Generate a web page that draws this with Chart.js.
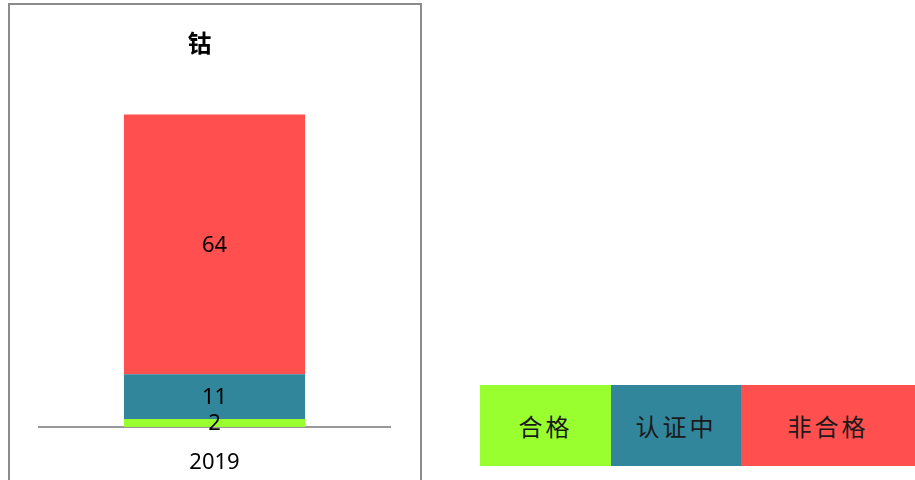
<!DOCTYPE html>
<html>
<head>
<meta charset="utf-8">
<script src="https://cdn.jsdelivr.net/npm/chart.js@4"></script>
<style>
  body { margin: 0; background: #fff; width: 915px; height: 480px; overflow: hidden; position: relative; font-family: 'Noto Sans', 'Noto Sans CJK SC', sans-serif; }
  #frame { position: absolute; left: 8px; top: 3px; width: 410px; height: 480px; border: 2px solid #8c8c8c; box-sizing: content-box; }
  #chart { position: absolute; left: 9px; top: 4px; }
  #legend { position: absolute; left: 480px; top: 385px; height: 81px; display: flex; }
  .leg-item { height: 81px; display: flex; align-items: center; justify-content: center; font-size: 24px; color: #1a1a1a; font-family: 'Noto Sans CJK SC', sans-serif; letter-spacing: 3px; }
</style>
</head>
<body>
<div id="frame"></div>
<canvas id="chart" width="410" height="476"></canvas>
<div id="legend"></div>
<script>
const categories = ['2019'];
const seriesNames = ['合格', '认证中', '非合格'];
const passedValues = [2];
const pendingValues = [11];
const failedValues = [64];
const seriesColors = ['#99ff2e', '#31869c', '#ff4f4f'];
const legendWidths = [131, 130, 174];

const FONT = "'Noto Sans', 'Noto Sans CJK SC', sans-serif";

// draw the value in the middle of each segment
const centerLabels = {
  id: 'centerLabels',
  afterDatasetsDraw(chart) {
    const ctx = chart.ctx;
    ctx.save();
    ctx.font = '22px ' + FONT;
    ctx.fillStyle = '#000';
    ctx.textAlign = 'center';
    ctx.textBaseline = 'middle';
    chart.data.datasets.forEach((ds, i) => {
      chart.getDatasetMeta(i).data.forEach((bar, j) => {
        const p = bar.getCenterPoint();
        ctx.fillText(String(ds.data[j]), p.x, p.y + 1);
      });
    });
    ctx.restore();
  }
};

const allSeries = [passedValues, pendingValues, failedValues];

new Chart(document.getElementById('chart'), {
  type: 'bar',
  data: {
    labels: categories,
    datasets: allSeries.map((vals, i) => ({
      label: seriesNames[i],
      data: vals,
      backgroundColor: seriesColors[i],
      borderWidth: 0,
      categoryPercentage: 1,
      barPercentage: 0.516
    }))
  },
  options: {
    responsive: false,
    animation: false,
    layout: { padding: { left: 0, right: 29, top: 0, bottom: 0 } },
    plugins: {
      legend: { display: false },
      tooltip: { enabled: false },
      title: {
        display: true,
        text: '钴',
        color: '#000',
        font: { size: 24, weight: 'bold', family: "'Noto Sans CJK SC', sans-serif" },
        padding: { top: 24, bottom: 5 }
      }
    },
    scales: {
      x: {
        stacked: true,
        grid: { display: false, drawTicks: false },
        border: { display: true, color: '#999', width: 2 },
        ticks: { color: '#000', font: { size: 22, family: FONT }, padding: 23 },
        afterFit(s) { s.height = 53; }
      },
      y: {
        stacked: true,
        min: 0,
        max: 90,
        grid: { display: false, drawTicks: false },
        border: { display: false },
        ticks: { display: false },
        afterFit(s) { s.width = 30; }
      }
    }
  },
  plugins: [centerLabels]
});

const legend = document.getElementById('legend');
seriesNames.forEach((name, i) => {
  const d = document.createElement('div');
  d.className = 'leg-item';
  d.style.width = legendWidths[i] + 'px';
  d.style.background = seriesColors[i];
  d.textContent = name;
  legend.appendChild(d);
});
</script>
</body>
</html>
